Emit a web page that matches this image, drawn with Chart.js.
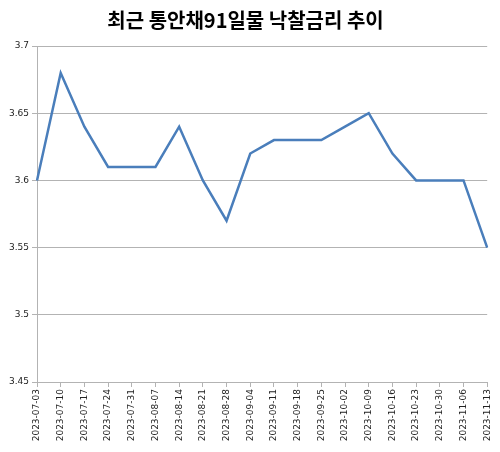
<!DOCTYPE html>
<html>
<head>
<meta charset="utf-8">
<script src="https://cdn.jsdelivr.net/npm/chart.js@4"></script>
<style>
  html, body { margin: 0; padding: 0; background: #fff; }
  #wrap { width: 500px; height: 452px; }
</style>
</head>
<body>
<div id="wrap"><canvas id="rate-chart" width="500" height="452"></canvas></div>
<script>
  // 통안채 91일물 낙찰금리 (주간)
  var weeks = ["2023-07-03", "2023-07-10", "2023-07-17", "2023-07-24", "2023-07-31",
    "2023-08-07", "2023-08-14", "2023-08-21", "2023-08-28", "2023-09-04",
    "2023-09-11", "2023-09-18", "2023-09-25", "2023-10-02", "2023-10-09",
    "2023-10-16", "2023-10-23", "2023-10-30", "2023-11-06", "2023-11-13"];
  var rates = [3.60, 3.68, 3.64, 3.61, 3.61, 3.61, 3.64, 3.60, 3.57, 3.62,
    3.63, 3.63, 3.63, 3.64, 3.65, 3.62, 3.60, 3.60, 3.60, 3.55];
  var yTicks = [3.45, 3.5, 3.55, 3.6, 3.65, 3.7];

  var gridColor = "#b3b3b3";
  var tickFont = { family: "'DejaVu Sans'", size: 9 };

  var ctx = document.getElementById("rate-chart").getContext("2d");

  var rateChart = new Chart(ctx, {
    type: "line",
    data: {
      labels: weeks,
      datasets: [{
        label: "낙찰금리",
        data: rates,
        borderColor: "#4a7ebb",
        borderWidth: 2.5,
        pointRadius: 0,
        tension: 0,
        fill: false
      }]
    },
    options: {
      responsive: false,
      animation: false,
      devicePixelRatio: 1,
      layout: { padding: { left: 0, right: 9, top: 0, bottom: 0 } },
      plugins: {
        legend: { display: false },
        tooltip: { enabled: false },
        title: {
          display: true,
          text: "최근 통안채91일물 낙찰금리 추이",
          color: "#000",
          font: { family: "'Noto Sans CJK KR'", size: 20, weight: "bold" },
          padding: { top: 8, bottom: 14 }
        }
      },
      scales: {
        x: {
          offset: false,
          grid: {
            drawOnChartArea: false,
            drawTicks: true,
            tickLength: 5,
            color: gridColor
          },
          border: { color: gridColor, width: 1 },
          ticks: {
            autoSkip: false,
            minRotation: 90,
            maxRotation: 90,
            padding: 2,
            color: "#222",
            font: tickFont
          },
          afterFit: function (scale) { scale.height = 70; }
        },
        y: {
          min: yTicks[0],
          max: yTicks[yTicks.length - 1],
          afterBuildTicks: function (scale) {
            scale.ticks = yTicks.map(function (v) { return { value: v }; });
          },
          grid: {
            color: gridColor,
            tickLength: 5
          },
          border: { color: gridColor, width: 1 },
          ticks: {
            padding: 3,
            color: "#222",
            font: tickFont,
            callback: function (v) { return String(Number(v.toFixed(2))); }
          },
          afterFit: function (scale) { scale.width = 37; }
        }
      }
    }
  });
</script>
</body>
</html>
